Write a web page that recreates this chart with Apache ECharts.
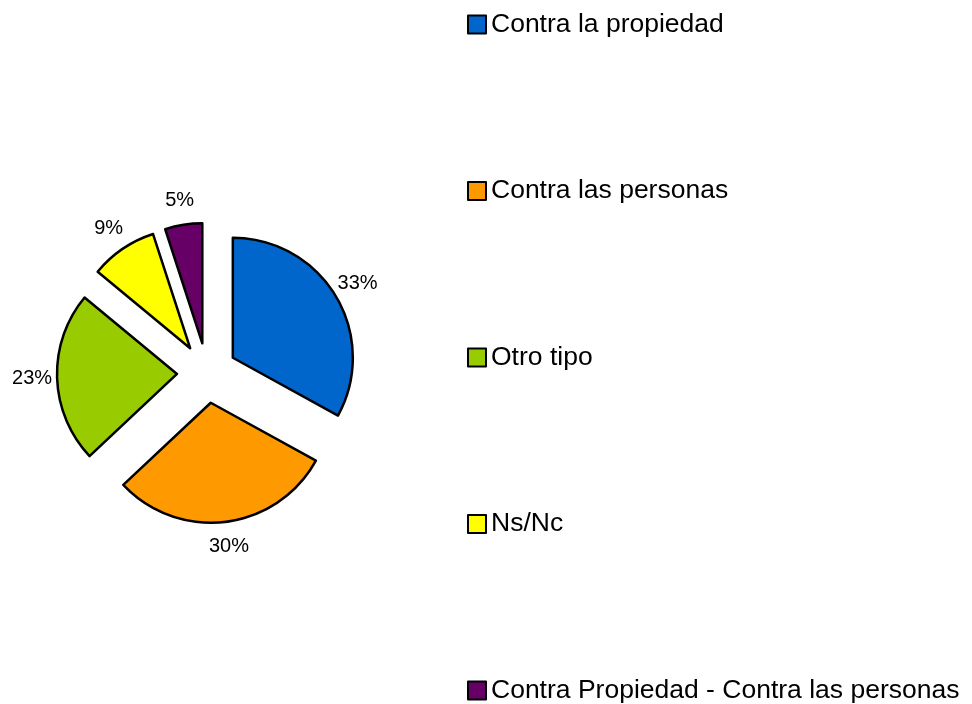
<!DOCTYPE html>
<html>
<head>
<meta charset="utf-8">
<script src="https://cdn.jsdelivr.net/npm/echarts@6/dist/echarts.min.js"></script>
<style>
    html, body { margin: 0; padding: 0; background: #fff; }
    #main { width: 972px; height: 704px; }
</style>
</head>
<body>
<div id="main"></div>
<script>
// datos del grafico
var categorias = ['Contra la propiedad', 'Contra las personas', 'Otro tipo', 'Ns/Nc', 'Contra Propiedad - Contra las personas'];
var valores = [33, 30, 23, 9, 5];
var colores = ['#0066CC', '#FF9900', '#99CC00', '#FFFF00', '#660066'];

var myChart = echarts.init(document.getElementById('main'));

var datosPie = [];
var datosEtiqueta = [];
for (var i = 0; i < categorias.length; i++) {
    datosPie.push({
        name: categorias[i],
        value: valores[i],
        selected: true,
        itemStyle: { color: colores[i] }
    });
    datosEtiqueta.push({
        name: categorias[i],
        value: valores[i],
        selected: true
    });
}

var option = {
    animation: false,
    color: colores,
    legend: {
        orient: 'vertical',
        left: 467,
        top: 11,
        height: 700,
        padding: 0,
        itemGap: 139.5,
        itemWidth: 18,
        itemHeight: 18,
        icon: 'rect',
        itemStyle: { borderColor: '#000', borderWidth: 2 },
        textStyle: {
            fontFamily: 'Liberation Sans, Arial, sans-serif',
            fontSize: 26.5,
            lineHeight: 26,
            color: '#000'
        },
        data: categorias
    },
    series: [
        {
            type: 'pie',
            center: [207, 373],
            radius: 120,
            startAngle: 90,
            clockwise: true,
            selectedMode: 'multiple',
            selectedOffset: 30,
            avoidLabelOverlap: false,
            label: { show: false },
            labelLine: { show: false },
            itemStyle: { borderColor: '#000', borderWidth: 2.5 },
            select: { itemStyle: { borderColor: '#000', borderWidth: 2.5 } },
            emphasis: { disabled: true },
            data: datosPie
        },
        {
            // serie invisible solo para poner los porcentajes fuera
            type: 'pie',
            silent: true,
            center: [207, 373],
            radius: [130, 154],
            startAngle: 90,
            clockwise: true,
            selectedMode: 'multiple',
            selectedOffset: 30,
            avoidLabelOverlap: false,
            legendHoverLink: false,
            itemStyle: { color: 'transparent', borderWidth: 0 },
            select: { itemStyle: { color: 'transparent', borderWidth: 0 } },
            label: {
                show: true,
                position: 'inside',
                formatter: '{c}%',
                color: '#000',
                fontSize: 20,
                fontFamily: 'Liberation Sans, Arial, sans-serif'
            },
            labelLine: { show: false },
            emphasis: { disabled: true },
            data: datosEtiqueta
        }
    ]
};

myChart.setOption(option);
</script>
</body>
</html>
